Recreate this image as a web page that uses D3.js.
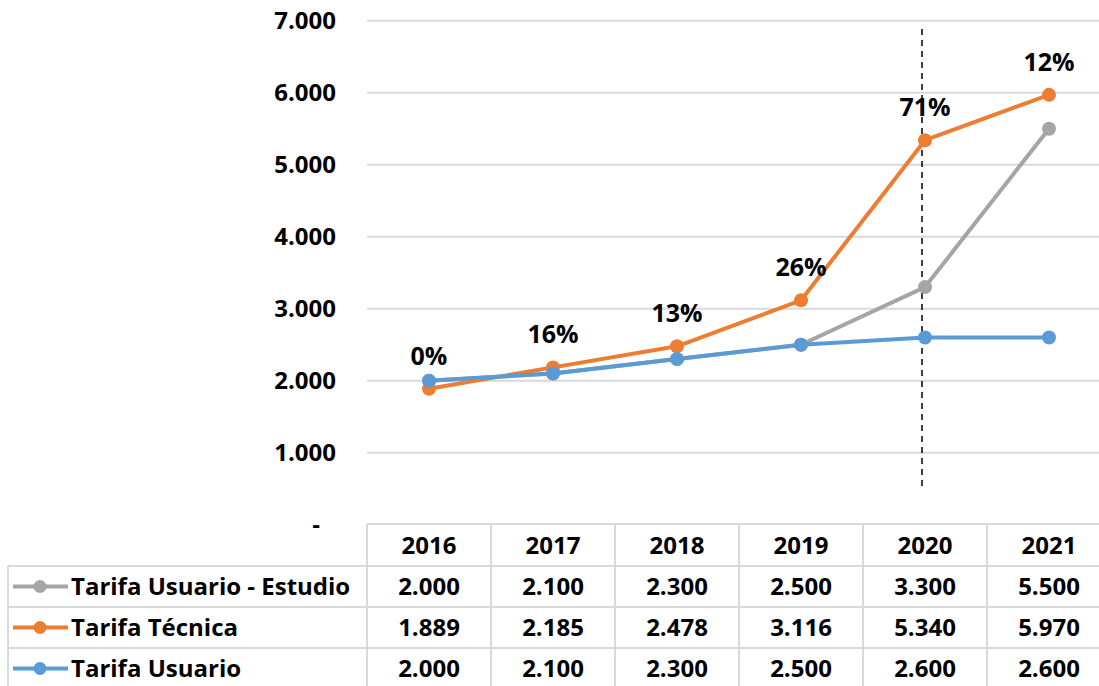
<!DOCTYPE html>
<html><head><meta charset="utf-8">
<script src="https://cdn.jsdelivr.net/npm/d3@7"></script>
<style>body{margin:0;background:#fff}svg{display:block}text{font-family:"Open Sans","Noto Sans",sans-serif;font-weight:bold;fill:#000}</style>
</head><body><svg id="c" width="1099" height="686"></svg>
<script>
const years = ["2016","2017","2018","2019","2020","2021"];
const estudio = [2000,2100,2300,2500,3300,5500];
const tecnica = [1889,2185,2478,3116,5340,5970];
const usuario = [2000,2100,2300,2500,2600,2600];
const pctLabels = ["0%","16%","13%","26%","71%","12%"];
const yTicks = [0,1000,2000,3000,4000,5000,6000,7000];
const series = [
  {name:"Tarifa Usuario - Estudio", values:estudio, color:"#A5A5A5"},
  {name:"Tarifa Técnica", values:tecnica, color:"#ED7D31"},
  {name:"Tarifa Usuario", values:usuario, color:"#5B9BD5"}
];
const svg = d3.select("#c");
const x = d3.scaleBand().domain(years).range([367,1111]);
const y = d3.scaleLinear().domain([0,7000]).range([524.7,20.7]);
const fmt = v => v===0 ? "-" : d3.format(",")(v).replace(/,/g,".");
const grid = "#D9D9D9";
const fs = "24px";
// gridlines
svg.append("g").selectAll("line").data(yTicks.filter(d=>d>0)).join("line")
  .attr("x1",367).attr("x2",1111).attr("y1",d=>y(d)).attr("y2",d=>y(d))
  .attr("stroke",grid).attr("stroke-width",2);
// y labels
svg.append("g").selectAll("text").data(yTicks).join("text")
  .attr("x",d=>d===0?316:336).attr("y",d=>y(d)+8.5)
  .attr("text-anchor",d=>d===0?"middle":"end").style("font-size",fs).text(fmt);
// table
const rowY = [524,566,607,648,689];
const tg = svg.append("g");
tg.append("line").attr("x1",367).attr("x2",1111).attr("y1",rowY[0]).attr("y2",rowY[0]).attr("stroke",grid).attr("stroke-width",2);
rowY.slice(1).forEach(r=>tg.append("line").attr("x1",8).attr("x2",1111).attr("y1",r).attr("y2",r).attr("stroke",grid).attr("stroke-width",2));
tg.append("line").attr("x1",8).attr("x2",8).attr("y1",rowY[1]).attr("y2",689).attr("stroke",grid).attr("stroke-width",2);
tg.selectAll("line.v").data(years.concat(["end"])).join("line").attr("class","v")
  .attr("x1",(d,i)=>367+i*x.bandwidth()).attr("x2",(d,i)=>367+i*x.bandwidth())
  .attr("y1",rowY[0]).attr("y2",689).attr("stroke",grid).attr("stroke-width",2);
tg.selectAll("text.h").data(years).join("text").attr("class","h")
  .attr("x",d=>x(d)+x.bandwidth()/2).attr("y",(rowY[0]+rowY[1])/2+8.5)
  .attr("text-anchor","middle").style("font-size",fs).text(d=>d);
series.forEach((s,si)=>{
  const cy = (rowY[si+1]+rowY[si+2])/2;
  tg.append("line").attr("x1",13).attr("x2",68).attr("y1",cy).attr("y2",cy).attr("stroke",s.color).attr("stroke-width",4);
  tg.append("circle").attr("cx",40).attr("cy",cy).attr("r",6.5).attr("fill",s.color);
  tg.append("text").attr("x",71).attr("y",cy+8.5).style("font-size",fs).text(s.name);
  tg.selectAll(null).data(s.values).join("text")
    .attr("x",(d,i)=>x(years[i])+x.bandwidth()/2).attr("y",cy+8.5)
    .attr("text-anchor","middle").style("font-size",fs).text(fmt);
});
// dashed line
svg.append("line").attr("x1",922).attr("x2",922).attr("y1",29).attr("y2",486)
  .attr("stroke","#000").attr("stroke-width",1.5).attr("stroke-dasharray","6,5");
// lines
const line = d3.line().x((d,i)=>x(years[i])+x.bandwidth()/2).y(d=>y(d));
series.forEach(s=>{
  const g = svg.append("g");
  g.append("path").datum(s.values).attr("d",line).attr("fill","none").attr("stroke",s.color).attr("stroke-width",4).attr("stroke-linejoin","round");
  g.selectAll("circle").data(s.values).join("circle")
    .attr("cx",(d,i)=>x(years[i])+x.bandwidth()/2).attr("cy",d=>y(d)).attr("r",7).attr("fill",s.color);
});
// pct labels
svg.append("g").selectAll("text").data(tecnica).join("text")
  .attr("x",(d,i)=>x(years[i])+x.bandwidth()/2).attr("y",d=>y(d)-24)
  .attr("text-anchor","middle").style("font-size","25px").text((d,i)=>pctLabels[i]);
</script></body></html>
